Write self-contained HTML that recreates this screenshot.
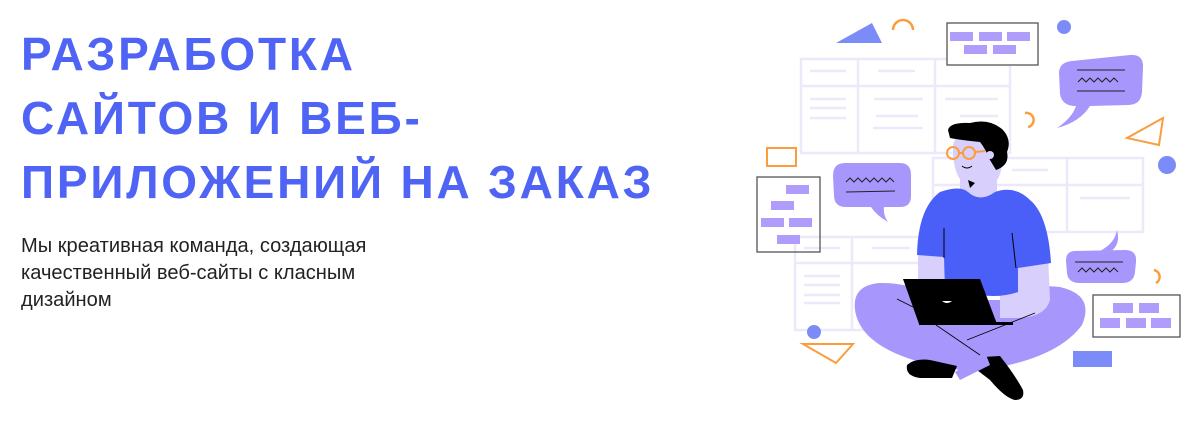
<!DOCTYPE html>
<html><head><meta charset="utf-8">
<style>
html,body{margin:0;padding:0;background:#fff;width:1200px;height:421px;overflow:hidden;position:relative}
h1{position:absolute;left:21px;top:22px;margin:0;font-family:"Liberation Sans",sans-serif;font-weight:bold;font-size:46px;line-height:64px;color:#4f63f5;letter-spacing:2.8px;white-space:nowrap}
p{position:absolute;left:21px;top:233px;margin:0;font-family:"Liberation Sans",sans-serif;font-size:20.1px;line-height:27px;color:#222;width:480px}
svg{position:absolute;left:0;top:0}
</style></head><body>
<h1>РАЗРАБОТКА<br>САЙТОВ И ВЕБ-<br>ПРИЛОЖЕНИЙ НА ЗАКАЗ</h1>
<p>Мы креативная команда, создающая<br>качественный веб-сайты с класным<br>дизайном</p>
<svg width="1200" height="421" viewBox="0 0 1200 421">
<g fill="none" stroke="#ece9fb" stroke-width="2.5">
 <rect x="801" y="59" width="209" height="94"/>
 <line x1="858" y1="59" x2="858" y2="153"/><line x1="935" y1="59" x2="935" y2="153"/>
 <line x1="801" y1="86" x2="1010" y2="86"/>
 <line x1="810" y1="71" x2="846" y2="71"/><line x1="878" y1="71" x2="915" y2="71"/>
 <line x1="810" y1="99" x2="846" y2="99"/><line x1="810" y1="108" x2="846" y2="108"/><line x1="810" y1="118" x2="846" y2="118"/>
 <line x1="874" y1="99" x2="923" y2="99"/><line x1="876" y1="116" x2="918" y2="116"/><line x1="873" y1="128" x2="923" y2="128"/>
 <line x1="945" y1="99" x2="998" y2="99"/><line x1="960" y1="116" x2="998" y2="116"/>
 <rect x="933" y="158" width="210" height="74"/>
 <line x1="1067" y1="158" x2="1067" y2="232"/><line x1="933" y1="185" x2="1143" y2="185"/>
 <line x1="1012" y1="170" x2="1048" y2="170"/><line x1="1080" y1="198" x2="1130" y2="198"/>
 <rect x="795" y="237" width="140" height="93"/>
 <line x1="852" y1="237" x2="852" y2="330"/><line x1="795" y1="263" x2="935" y2="263"/>
 <line x1="804" y1="248" x2="840" y2="248"/><line x1="872" y1="248" x2="910" y2="248"/>
 <line x1="804" y1="276" x2="840" y2="276"/><line x1="804" y1="285" x2="840" y2="285"/><line x1="804" y1="295" x2="840" y2="295"/><line x1="804" y1="303" x2="840" y2="303"/>
</g>
<polygon points="836,43 872,23 882,43" fill="#7b8cf8"/>
<path d="M893,30 A10,10 0 0 1 913,30" fill="none" stroke="#fb9d3c" stroke-width="2.5"/>
<rect x="947" y="23" width="91" height="42" fill="#fff" stroke="#555" stroke-width="1.3"/>
<g fill="#b09cfb">
 <rect x="950" y="32" width="23" height="9"/><rect x="979" y="32" width="23" height="9"/><rect x="1007" y="32" width="23" height="9"/>
 <rect x="964" y="45" width="23" height="9"/><rect x="993" y="45" width="23" height="9"/>
 <rect x="786" y="185" width="23" height="9"/><rect x="771" y="201" width="23" height="9"/><rect x="761" y="218" width="23" height="9"/><rect x="789" y="218" width="23" height="9"/><rect x="777" y="235" width="23" height="9"/>
 <rect x="1113" y="303" width="20" height="10"/><rect x="1139" y="303" width="20" height="10"/>
 <rect x="1100" y="318" width="20" height="10"/><rect x="1126" y="318" width="20" height="10"/><rect x="1151" y="318" width="20" height="10"/>
</g>
<circle cx="1064" cy="27" r="7" fill="#7b8cf8"/>
<circle cx="1167" cy="165" r="9" fill="#7b8cf8"/>
<circle cx="814" cy="332" r="7" fill="#7b8cf8"/>
<rect x="1073" y="351" width="39" height="16" fill="#7b8cf8"/>
<path d="M1072,61 L1130,55 Q1144,54 1143,68 L1142,92 Q1141,105 1128,105 L1090,106 Q1080,122 1057,128 Q1072,118 1076,106 Q1062,106 1060,94 L1059,72 Q1060,62 1072,61Z" fill="#a797fc"/>
<path d="M845,163 L900,163 Q911,163 911,175 L911,196 Q911,207 900,207 L884,207 Q883,215 888,222 Q876,215 871,207 L846,207 Q834,207 834,195 L833,176 Q833,163 845,163Z" fill="#a797fc"/>
<path d="M1075,251 L1125,250 Q1137,250 1136,262 L1135,272 Q1134,283 1122,283 L1080,283 Q1068,283 1067,273 L1066,261 Q1066,251 1075,251Z M1100,251 Q1115,243 1117,230 Q1121,245 1110,252Z" fill="#a797fc"/>
<g fill="none" stroke="#222" stroke-width="1"><line x1="1077" y1="70" x2="1125" y2="70"/><line x1="1077" y1="91" x2="1125" y2="91"/><path d="M1078,82 l4,-4 4,4 4,-4 4,4 4,-4 4,4 4,-4 4,4 4,-4 4,4"/>
<line x1="846" y1="192" x2="895" y2="191"/><path d="M846,182 l4,-4 4,4 4,-4 4,4 4,-4 4,4 4,-4 4,4 4,-4 4,4 4,-4 4,4"/>
<line x1="1075" y1="262" x2="1123" y2="262"/><path d="M1078,272 l4,-4 4,4 4,-4 4,4 4,-4 4,4 4,-4 4,4 4,-4 4,4"/></g>
<path d="M1025,113 A7,7 0 0 1 1028,127" fill="none" stroke="#fb9d3c" stroke-width="2.5"/>
<path d="M1154,270 A7,7 0 0 1 1156,283" fill="none" stroke="#fb9d3c" stroke-width="2.5"/>
<polygon points="1127,138 1163,118 1159,145" fill="none" stroke="#fb9d3c" stroke-width="2"/>
<polygon points="803,344 853,344 836,363" fill="none" stroke="#fb9d3c" stroke-width="2"/>
<rect x="767" y="148" width="29" height="18" fill="none" stroke="#fb9d3c" stroke-width="2"/>
<rect x="757" y="177" width="63" height="75" fill="none" stroke="#555" stroke-width="1.3"/>
<rect x="1093" y="295" width="87" height="42" fill="none" stroke="#555" stroke-width="1.3"/>
<path d="M880,283 Q852,285 855,310 Q860,345 920,362 Q960,375 1000,367 Q1060,355 1082,325 Q1095,295 1060,287 Q1030,283 1000,300 L940,300 Q910,282 880,283Z" fill="#a797fc"/>
<path d="M907,365 Q915,358 930,360 L957,366 L952,378 L920,378 Q905,376 907,365Z" fill="#000"/>
<path d="M983,357 L1000,356 Q1015,375 1023,390 Q1025,400 1015,400 Q1005,398 990,380 L977,370Z" fill="#000"/>
<path d="M955,372 L985,352 L990,365 L960,380Z" fill="#a797fc"/>
<rect x="918" y="250" width="28" height="35" rx="8" fill="#d8cffc"/>
<path d="M1013,255 L1048,255 L1050,300 Q1045,318 1015,318 L1000,318 L1000,290Z" fill="#d8cffc"/>
<path d="M960,177 L997,177 L997,205 L960,205Z" fill="#d8cffc"/>
<path d="M940,192 Q960,185 968,192 Q980,203 995,192 Q1015,185 1030,200 Q1048,215 1051,263 L1018,268 L1018,292 Q1000,298 980,295 L945,290 L944,257 L917,255 Q918,208 940,192Z" fill="#4a5ff7"/>
<line x1="944" y1="228" x2="944" y2="258" stroke="#000" stroke-width="1"/>
<line x1="1012" y1="233" x2="1016" y2="268" stroke="#000" stroke-width="1"/>
<path d="M953,145 Q955,133 975,133 Q1000,135 1002,160 Q1002,180 990,186 Q975,192 962,182 Q952,170 953,145Z" fill="#d8cffc"/>
<path d="M968,180 L975,183 L970,188Z" fill="#000"/>
<path d="M948,130 Q950,122 970,123 Q990,118 1003,130 Q1012,140 1007,152 Q1010,165 996,170 L990,160 Q985,148 980,142 Q960,140 950,138Z" fill="#000"/>
<circle cx="990" cy="155" r="4" fill="#d8cffc"/>
<g fill="none" stroke="#fb9d3c" stroke-width="2"><circle cx="953" cy="153" r="6"/><circle cx="969" cy="153" r="6"/><line x1="959" y1="153" x2="963" y2="153"/><line x1="975" y1="152" x2="985" y2="151"/></g>
<path d="M962,166 Q967,170 972,166" fill="none" stroke="#000" stroke-width="1"/>
<polygon points="903,279 980,279 997,324 919,324" fill="#000"/>
<rect x="919" y="322" width="94" height="3" fill="#000"/>
<path d="M942,301 Q947,305 952,301Z" fill="#fff"/>
<g fill="none" stroke="#000" stroke-width="0.8"><line x1="897" y1="299" x2="913" y2="307"/><line x1="936" y1="325" x2="980" y2="355"/><line x1="967" y1="340" x2="1035" y2="313"/></g>
</svg>
</body></html>
